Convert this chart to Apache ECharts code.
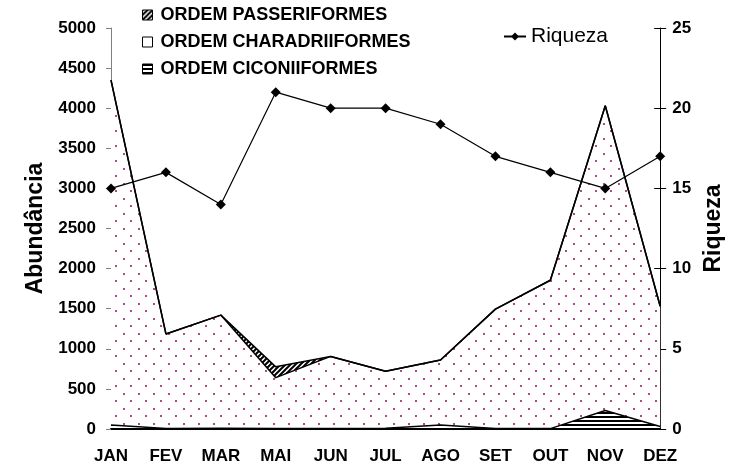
<!DOCTYPE html>
<html>
<head>
<meta charset="utf-8">
<script src="https://cdn.jsdelivr.net/npm/echarts@6/dist/echarts.min.js"></script>
<style>
  html, body { margin: 0; padding: 0; background: #fff; }
  #grafico { width: 733px; height: 476px; }
</style>
</head>
<body>
<div id="grafico"></div>
<script>
// dados
const meses = ["JAN", "FEV", "MAR", "MAI", "JUN", "JUL", "AGO", "SET", "OUT", "NOV", "DEZ"];
const ciconiiformes = [50, 5, 10, 5, 5, 10, 50, 5, 5, 230, 30];
const charadriiformes = [4300, 1180, 1410, 635, 900, 710, 810, 1490, 1850, 3800, 1500];
const passeriformes = [0, 0, 0, 135, 0, 0, 0, 0, 0, 0, 0];
const riqueza = [15, 16, 14, 21, 20, 20, 19, 17, 16, 15, 17];
const ticksAbund = [0, 5000, 500];
const ticksRiq = [0, 25, 5];

const fonte = "Liberation Sans, Arial, sans-serif";

// padrões de preenchimento (estilo Excel)
function padraoPontos() {
  const c = document.createElement("canvas");
  c.width = 15; c.height = 15;
  const g = c.getContext("2d");
  g.fillStyle = "#fff"; g.fillRect(0, 0, 15, 15);
  g.fillStyle = "#b04a86";
  g.fillRect(3, 3, 2, 2);
  g.fillRect(10, 10, 2, 2);
  return { image: c, repeat: "repeat" };
}
function padraoListras() {
  const c = document.createElement("canvas");
  c.width = 4; c.height = 4;
  const g = c.getContext("2d");
  g.fillStyle = "#fff"; g.fillRect(0, 0, 4, 4);
  g.fillStyle = "#000"; g.fillRect(0, 0, 4, 2);
  return { image: c, repeat: "repeat" };
}
function padraoDiagonal() {
  const c = document.createElement("canvas");
  c.width = 5; c.height = 5;
  const g = c.getContext("2d");
  g.fillStyle = "#fff"; g.fillRect(0, 0, 5, 5);
  g.strokeStyle = "#000"; g.lineWidth = 2;
  g.beginPath();
  g.moveTo(-1, 6); g.lineTo(6, -1);
  g.moveTo(-1, 1); g.lineTo(1, -1);
  g.moveTo(4, 6); g.lineTo(6, 4);
  g.stroke();
  return { image: c, repeat: "repeat" };
}

const pontos = padraoPontos();
const listras = padraoListras();
const diagonal = padraoDiagonal();

var grafico = echarts.init(document.getElementById("grafico"));

let option = {
  animation: false,
  backgroundColor: "#fff",
  grid: { left: 111, right: 72, top: 28, bottom: 47 },
  legend: [
    {
      orient: "vertical",
      left: 142,
      top: 6,
      padding: 0,
      icon: "rect",
      itemWidth: 10,
      itemHeight: 10,
      itemGap: 9,
      textStyle: { fontFamily: fonte, fontWeight: "bold", fontSize: 18, color: "#000", padding: [0, 0, 0, 3] },
      data: [
        { name: "ORDEM PASSERIFORMES", itemStyle: { color: diagonal, borderColor: "#000", borderWidth: 1 } },
        { name: "ORDEM CHARADRIIFORMES", itemStyle: { color: "#fff", borderColor: "#000", borderWidth: 1 } },
        { name: "ORDEM CICONIIFORMES", itemStyle: { color: listras, borderColor: "#000", borderWidth: 1 } }
      ]
    },
    {
      left: 503,
      top: 26,
      padding: 0,
      itemWidth: 22,
      itemHeight: 10,
      textStyle: { fontFamily: fonte, fontSize: 21, color: "#000" },
      data: ["Riqueza"]
    }
  ],
  xAxis: {
    type: "category",
    boundaryGap: false,
    data: meses,
    axisLine: { lineStyle: { color: "#000", width: 2 } },
    axisTick: { show: false },
    axisLabel: { fontFamily: fonte, fontWeight: "bold", fontSize: 17, color: "#000", margin: 19 }
  },
  yAxis: [
    {
      type: "value",
      min: ticksAbund[0], max: ticksAbund[1], interval: ticksAbund[2],
      name: "Abundância",
      nameLocation: "middle",
      nameRotate: 90,
      nameGap: 62,
      nameTextStyle: { fontFamily: fonte, fontWeight: "bold", fontSize: 23, color: "#000" },
      axisLine: { show: true, lineStyle: { color: "#808080", width: 1 } },
      axisTick: { show: true, length: 5, lineStyle: { color: "#808080" } },
      axisLabel: { fontFamily: fonte, fontWeight: "bold", fontSize: 17, color: "#000", margin: 15, formatter: v => String(v) },
      splitLine: { show: false }
    },
    {
      type: "value",
      position: "right",
      min: ticksRiq[0], max: ticksRiq[1], interval: ticksRiq[2],
      name: "Riqueza",
      nameLocation: "middle",
      nameRotate: 90,
      nameGap: 39,
      nameTextStyle: { fontFamily: fonte, fontWeight: "bold", fontSize: 23, color: "#000" },
      axisLine: { show: true, lineStyle: { color: "#000", width: 1 } },
      axisTick: { show: true, length: 6, lineStyle: { color: "#000" } },
      axisLabel: { fontFamily: fonte, fontWeight: "bold", fontSize: 17, color: "#000", margin: 12 },
      splitLine: { show: false }
    },
    {
      // marcas cruzadas do eixo direito (lado de dentro)
      type: "value",
      position: "right",
      min: ticksRiq[0], max: ticksRiq[1], interval: ticksRiq[2],
      axisLine: { show: false },
      axisTick: { show: true, inside: true, length: 6, lineStyle: { color: "#000" } },
      axisLabel: { show: false },
      splitLine: { show: false }
    }
  ],
  series: [
    {
      name: "ORDEM CICONIIFORMES",
      type: "line",
      stack: "abund",
      data: ciconiiformes,
      showSymbol: false,
      lineStyle: { color: "#000", width: 1.5 },
      itemStyle: { color: "#000" },
      areaStyle: { color: listras, opacity: 1 },
      z: 3
    },
    {
      name: "ORDEM CHARADRIIFORMES",
      type: "line",
      stack: "abund",
      data: charadriiformes,
      showSymbol: false,
      lineStyle: { color: "#000", width: 1.5 },
      itemStyle: { color: "#000" },
      areaStyle: { color: pontos, opacity: 1 },
      z: 2
    },
    {
      name: "ORDEM PASSERIFORMES",
      type: "line",
      stack: "abund",
      data: passeriformes,
      showSymbol: false,
      lineStyle: { color: "#000", width: 1.5 },
      itemStyle: { color: "#000" },
      areaStyle: { color: diagonal, opacity: 1 },
      z: 2
    },
    {
      name: "Riqueza",
      type: "line",
      yAxisIndex: 1,
      data: riqueza,
      symbol: "diamond",
      symbolSize: 10,
      lineStyle: { color: "#000", width: 1.2 },
      itemStyle: { color: "#000" },
      z: 5
    }
  ]
};
grafico.setOption(option);
</script>
</body>
</html>
